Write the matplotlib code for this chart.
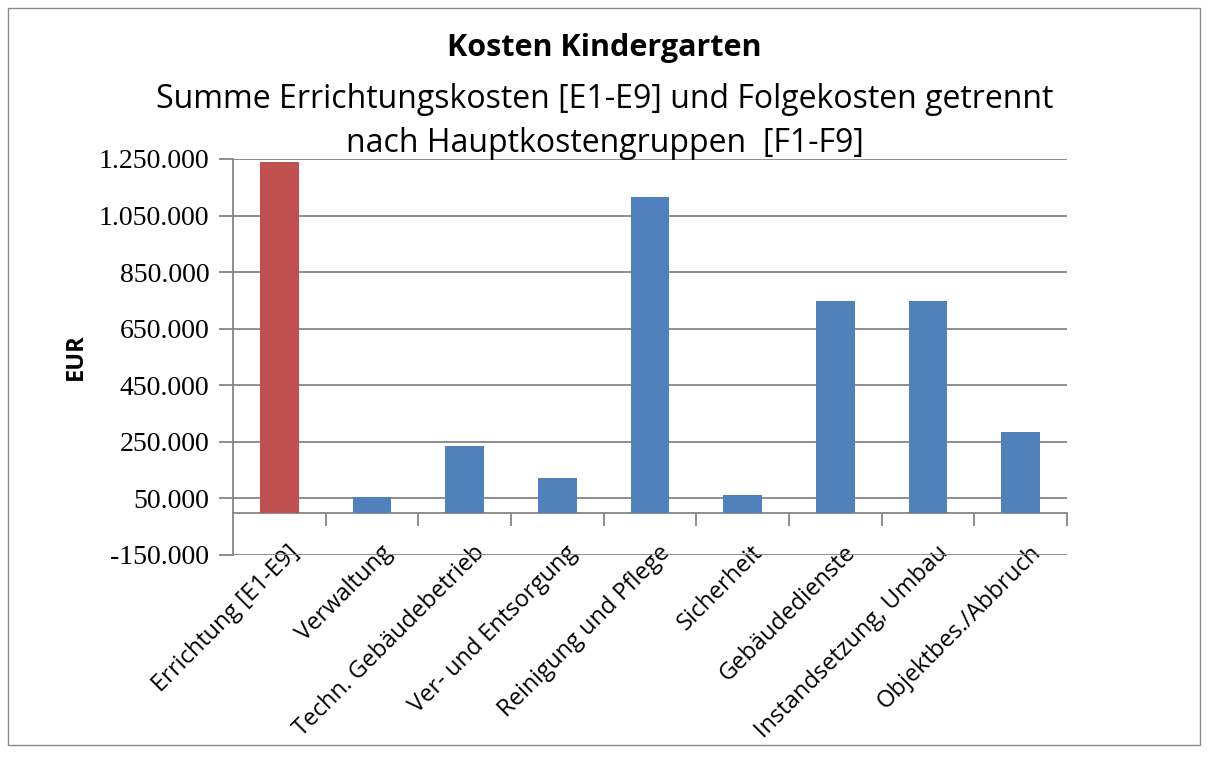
import matplotlib
matplotlib.use("Agg")
import matplotlib.pyplot as plt
from matplotlib.patches import Rectangle
from matplotlib.ticker import FuncFormatter
from matplotlib.transforms import ScaledTranslation

categories = ["Errichtung [E1-E9]", "Verwaltung", "Techn. Gebäudebetrieb",
              "Ver- und Entsorgung", "Reinigung und Pflege", "Sicherheit",
              "Gebäudedienste", "Instandsetzung, Umbau", "Objektbes./Abbruch"]
values = [1240000, 55000, 235000, 122000, 1116000, 62000, 748000, 748000, 285000]
colors = ["#C0504D"] + ["#4F81BD"] * 8
yticks = [-150000, 50000, 250000, 450000, 650000, 850000, 1050000, 1250000]

W, H = 1209, 758
fig = plt.figure(figsize=(W / 100, H / 100), dpi=100)
fig.patch.set_facecolor("white")
fig.add_artist(Rectangle((8 / W, 1 - 745 / H), (1200 - 8) / W, (745 - 8) / H,
                         transform=fig.transFigure, fill=False,
                         edgecolor="#8c8c8c", lw=1.0))

ax = fig.add_axes([233 / W, 1 - 555 / H, (1067 - 233) / W, (555 - 159) / H])
x = list(range(len(categories)))
ax.bar(x, values, width=0.42, color=colors, zorder=3)
ax.set_xlim(-0.5, len(categories) - 0.5)
ax.set_ylim(yticks[0], yticks[-1])
ax.set_yticks(yticks)
ax.yaxis.set_major_formatter(FuncFormatter(lambda v, p: f"{int(v):,}".replace(",", ".")))
ax.yaxis.grid(True, color="#868686", lw=1.3, zorder=0)
ax.tick_params(axis="y", length=10, width=1.3, color="#868686", pad=7,
               labelsize=20)
for lab in ax.get_yticklabels():
    lab.set_fontfamily("Liberation Serif")

for s in ["top", "right", "bottom"]:
    ax.spines[s].set_visible(False)
ax.spines["left"].set_color("#868686")
ax.spines["left"].set_linewidth(1.3)

ax.set_xticks(x)
ax.set_xticklabels(categories, rotation=45, ha="right", va="top",
                   rotation_mode="anchor", fontsize=17, fontfamily="Open Sans")
ax.tick_params(axis="x", length=0, pad=0)
shift = ScaledTranslation(8 / 100, 14 / 100, fig.dpi_scale_trans)
for lab in ax.get_xticklabels():
    lab.set_transform(lab.get_transform() + shift)

# category axis crossing at zero with boundary ticks
sec = ax.secondary_xaxis(0, transform=ax.transData)
sec.set_xticks([i + 0.5 for i in x[:-1]] + [x[-1] + 0.5])
sec.set_xticklabels([])
sec.tick_params(axis="x", direction="out", length=9, width=1.3, color="#868686")
sec.spines["bottom"].set_color("#868686")
sec.spines["bottom"].set_linewidth(1.3)

ax.set_ylabel("EUR", fontsize=17, fontweight="bold", fontfamily="Open Sans",
              labelpad=8)

fig.text(0.5, 1 - 48 / H, "Kosten Kindergarten", ha="center", va="center",
         fontsize=22, fontweight="bold", fontfamily="Open Sans")
fig.text(0.5, 1 - 99 / H, "Summe Errichtungskosten [E1-E9] und Folgekosten getrennt",
         ha="center", va="center", fontsize=23, fontfamily="Open Sans")
fig.text(0.5, 1 - 143 / H, "nach Hauptkostengruppen  [F1-F9]",
         ha="center", va="center", fontsize=23, fontfamily="Open Sans")

fig.savefig("out.png", dpi=100)
